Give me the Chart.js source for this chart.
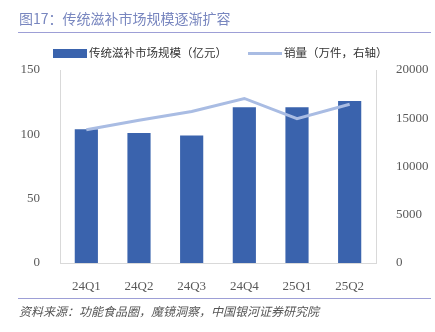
<!DOCTYPE html>
<html>
<head>
<meta charset="utf-8">
<script src="https://cdn.jsdelivr.net/npm/chart.js@4/dist/chart.umd.min.js"></script>
<style>
  html, body { margin: 0; padding: 0; background: #fff; }
  #wrap { position: relative; width: 435px; height: 332px; overflow: hidden; font-family: "Noto Sans CJK SC", sans-serif; }
  #title { position: absolute; left: 19px; top: 8px; font-size: 14px; color: #7886bf; white-space: nowrap; }
  #rule1 { position: absolute; left: 18px; top: 32px; width: 413px; height: 1px; background: #9d9fd6; }
  #rule2 { position: absolute; left: 18px; top: 298px; width: 413px; height: 1px; background: #9d9fd6; }
  #source { position: absolute; left: 19px; top: 302px; font-size: 12px; color: #555; font-style: italic; white-space: nowrap; }
  .leg { position: absolute; top: 44px; font-size: 11.5px; color: #333; white-space: nowrap; line-height: 16px; }
  .sw { display: inline-block; vertical-align: middle; margin-right: 2px; }
  canvas { position: absolute; left: 0; top: 0; }
</style>
</head>
<body>
<div id="wrap">
  <canvas id="chart" width="435" height="332"></canvas>
  <div id="title">图17：传统滋补市场规模逐渐扩容</div>
  <div id="rule1"></div>
  <div class="leg" style="left:53px;"><span class="sw" style="width:34px;height:9px;background:#3a63ad;"></span>传统滋补市场规模（亿元）</div>
  <div class="leg" style="left:248px;"><span class="sw" style="width:34px;height:3px;background:#a9bce3;"></span>销量（万件，右轴）</div>
  <div id="rule2"></div>
  <div id="source">资料来源：功能食品圈，魔镜洞察，中国银河证券研究院</div>
</div>
<script>
const quarters = ['24Q1', '24Q2', '24Q3', '24Q4', '25Q1', '25Q2'];
const marketSize = [104, 101, 99, 121, 121, 126];
const salesVolume = [13800, 14800, 15700, 17050, 14950, 16450];

const tickFont = { family: 'Liberation Serif', size: 13 };
const tickColor = '#595959';
const axisLine = '#d9d9d9';

const ctx = document.getElementById('chart').getContext('2d');
new Chart(ctx, {
    data: {
        labels: quarters,
        datasets: [{
            type: 'line',
            label: '销量（万件，右轴）',
            data: salesVolume,
            yAxisID: 'y1',
            borderColor: '#a9bce3',
            borderWidth: 3,
            pointRadius: 0,
            tension: 0,
            order: 0
        }, {
            type: 'bar',
            label: '传统滋补市场规模（亿元）',
            data: marketSize,
            yAxisID: 'y',
            backgroundColor: '#3a63ad',
            barPercentage: 0.44,
            categoryPercentage: 1,
            order: 1
        }]
    },
    options: {
        responsive: false,
        animation: false,
        layout: { padding: { top: 70, left: 0, right: 0, bottom: 0 } },
        plugins: {
            legend: { display: false },
            tooltip: { enabled: false }
        },
        scales: {
            x: {
                grid: { display: false },
                border: { display: true, color: axisLine },
                ticks: { font: tickFont, color: tickColor, padding: 8 },
                afterFit: scale => { scale.height = 69; }
            },
            y: {
                position: 'left',
                min: 0, max: 150,
                grid: { display: false },
                border: { display: true, color: axisLine },
                ticks: { stepSize: 50, font: tickFont, color: tickColor, padding: 12 },
                afterFit: scale => { scale.width = 60; }
            },
            y1: {
                position: 'right',
                min: 0, max: 20000,
                grid: { display: false },
                border: { display: true, color: axisLine },
                ticks: { stepSize: 5000, font: tickFont, color: tickColor, padding: 12,
                    callback: v => String(v) },
                afterFit: scale => { scale.width = 59; }
            }
        }
    }
});
</script>
</body>
</html>
